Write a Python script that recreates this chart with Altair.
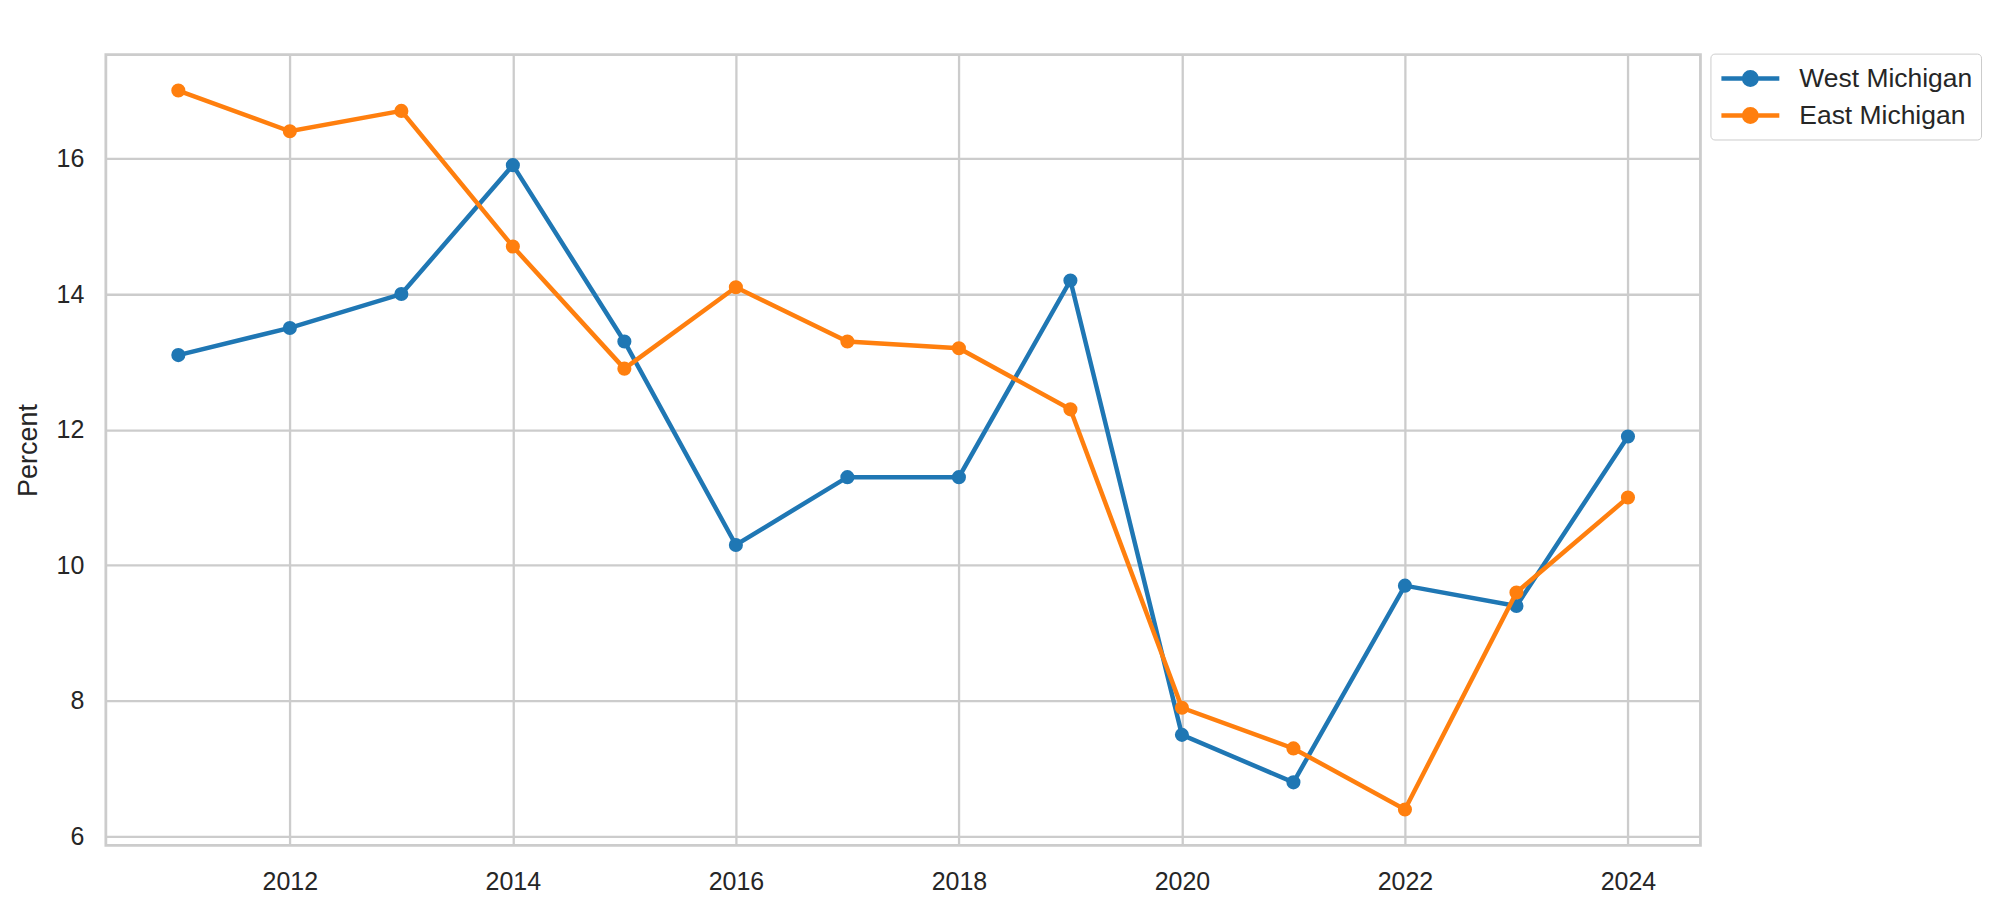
import altair as alt
import pandas as pd

years = list(range(2011, 2025))
west = [13.1, 13.5, 14.0, 15.9, 13.3, 10.3, 11.3, 11.3, 14.2, 7.5, 6.8, 9.7, 9.4, 11.9]
east = [17.0, 16.4, 16.7, 14.7, 12.9, 14.1, 13.3, 13.2, 12.3, 7.9, 7.3, 6.4, 9.6, 11.0]
series_names = ["West Michigan", "East Michigan"]
colors = ["#1f77b4", "#ff7f0e"]
x_ticks = [2012, 2014, 2016, 2018, 2020, 2022, 2024]
y_ticks = [6, 8, 10, 12, 14, 16]

rows = []
for y, w, e in zip(years, west, east):
    rows.append({"Year": y, "Percent": w, "Region": series_names[0]})
    rows.append({"Year": y, "Percent": e, "Region": series_names[1]})
df = pd.DataFrame(rows)

FONT = "Liberation Sans"
TXT = "#262626"

x_enc = alt.X("Year:Q", scale=alt.Scale(domain=[2010.35, 2024.65], nice=False, zero=False),
              axis=alt.Axis(values=x_ticks, format="d", title=None, labelFontSize=25,
                            labelPadding=24, labelColor=TXT, labelFont=FONT))
y_enc = alt.Y("Percent:Q", scale=alt.Scale(domain=[5.87, 17.53], nice=False, zero=False),
              axis=alt.Axis(values=y_ticks, title="Percent", labelFontSize=25,
                            labelPadding=22, labelColor=TXT, labelFont=FONT,
                            titleFontSize=27, titleFont=FONT, titleColor=TXT,
                            titleFontWeight="normal", titlePadding=14))
color_scale = alt.Scale(domain=series_names, range=colors)

sym_path = "M-2,0L2,0M0.43,0A0.43,0.43,0,1,1,-0.43,0A0.43,0.43,0,1,1,0.43,0Z"
legend = alt.Legend(
    title=None, orient="none", legendX=1607, legendY=-1,
    symbolType=sym_path, symbolSize=841, symbolStrokeWidth=4.5, symbolOffset=15,
    labelFontSize=26.5, labelFont=FONT, labelColor=TXT, labelOffset=32, labelLimit=400,
    padding=8, strokeColor="#cccccc", cornerRadius=4, fillColor="white",
    rowPadding=4)

layers = []
for i, name in enumerate(series_names):
    base = alt.Chart(df).transform_filter(alt.datum.Region == name)
    line = base.mark_line(strokeWidth=4.5).encode(
        x=x_enc, y=y_enc,
        color=alt.Color("Region:N", scale=color_scale, legend=legend))
    pts = base.mark_point(filled=True, size=200, opacity=1).encode(
        x=x_enc, y=y_enc,
        color=alt.Color("Region:N", scale=color_scale, legend=legend))
    layers += [line, pts]

chart = alt.layer(*layers).properties(
    width=1597, height=792,
    autosize=alt.AutoSizeParams(type="none"),
    padding={"left": 98, "top": 46, "right": 292, "bottom": 70},
).configure(
    background="white"
).configure_view(
    stroke="#cccccc", strokeWidth=2.8
).configure_axis(
    grid=True, gridColor="#cccccc", gridWidth=2.3, domain=False, ticks=False
)

chart.save("out.html", embed_options={"renderer": "svg", "actions": False})
